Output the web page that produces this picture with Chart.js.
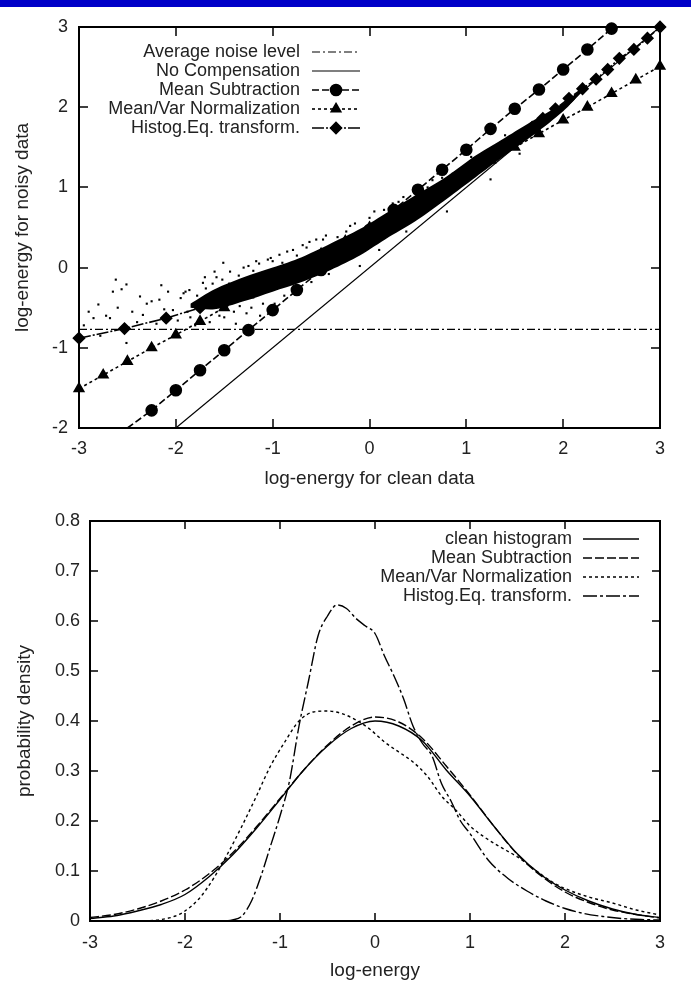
<!DOCTYPE html>
<html>
<head>
<meta charset="utf-8">
<script src="https://cdn.jsdelivr.net/npm/chart.js@4.4.0/dist/chart.umd.min.js"></script>
<style>
  html, body { margin: 0; padding: 0; background: #fff; }
  body { width: 691px; height: 985px; position: relative; overflow: hidden; }
  #bar { position: absolute; left: 0; top: 0; width: 691px; height: 7px; background: #0000c8; z-index: 2; }
  #wrapTop { position: absolute; left: 0; top: 0; }
  #wrapBottom { position: absolute; left: 0; top: 495px; }
</style>
</head>
<body>
<div id="bar"></div>
<div id="wrapTop"><canvas id="topChart" width="691" height="495"></canvas></div>
<div id="wrapBottom"><canvas id="bottomChart" width="691" height="490"></canvas></div>
<script>
// ---- top panel: noisy vs clean log-energy ----
const energyTicks = [-3, -2, -1, 0, 1, 2, 3];
const noisyTicks = [-2, -1, 0, 1, 2, 3];

const noiseX = [-3, 3];
const noiseY = [-0.77, -0.77];

const noCompX = [-2, 3];
const noCompY = [-2, 3];

const meanSubX = [-2.5, -2.25, -2, -1.75, -1.5, -1.25, -1, -0.75, -0.5, -0.25, 0, 0.25, 0.5, 0.75, 1, 1.25, 1.5, 1.75, 2, 2.25, 2.5];
const meanSubY = [-2.0, -1.78, -1.53, -1.28, -1.03, -0.78, -0.53, -0.28, -0.03, 0.22, 0.47, 0.72, 0.97, 1.22, 1.47, 1.73, 1.98, 2.22, 2.47, 2.72, 2.98];

const meanVarX = [-3, -2.75, -2.5, -2.25, -2, -1.75, -1.5, -1.25, -1, -0.75, -0.5, -0.25, 0, 0.25, 0.5, 0.75, 1, 1.25, 1.5, 1.75, 2, 2.25, 2.5, 2.75, 3];
const meanVarY = [-1.51, -1.34, -1.17, -1.0, -0.84, -0.67, -0.5, -0.34, -0.17, 0.0, 0.17, 0.33, 0.5, 0.67, 0.84, 1.0, 1.17, 1.34, 1.5, 1.67, 1.84, 2.0, 2.17, 2.34, 2.51];

const histEqX = [-3, -2.53, -2.1, -1.75, -1.45, -1.2, -0.95, -0.7, -0.5, -0.3, -0.1, 0.1, 0.3, 0.5, 0.7, 0.9, 1.1, 1.3, 1.51, 1.68, 1.79, 1.92, 2.06, 2.2, 2.34, 2.46, 2.58, 2.73, 2.87, 3.0];
const histEqY = [-0.88, -0.76, -0.63, -0.5, -0.38, -0.27, -0.15, -0.03, 0.08, 0.2, 0.33, 0.47, 0.62, 0.77, 0.93, 1.09, 1.25, 1.42, 1.59, 1.75, 1.86, 1.98, 2.11, 2.23, 2.35, 2.47, 2.61, 2.72, 2.86, 3.0];

// dense part of the noisy-frame cloud (lower / upper edge)
const cloudX = [-1.85, -1.6, -1.3, -1.0, -0.7, -0.4, -0.1, 0.2, 0.5, 0.8, 1.1, 1.4, 1.7, 2.0, 2.2];
const cloudLow = [-0.5, -0.52, -0.42, -0.3, -0.18, -0.03, 0.15, 0.38, 0.6, 0.86, 1.13, 1.4, 1.66, 1.95, 2.2];
const cloudHigh = [-0.45, -0.27, -0.12, 0.0, 0.13, 0.3, 0.48, 0.7, 0.92, 1.14, 1.4, 1.62, 1.84, 2.05, 2.23];

// loose frames around the cloud
const dotsX = [-2.95, -2.9, -2.85, -2.8, -2.78, -2.72, -2.68, -2.65, -2.6, -2.56, -2.51, -2.51, -2.45, -2.4, -2.37, -2.34, -2.3, -2.25, -2.2, -2.17,
  -2.12, -2.08, -2.03, -1.98, -1.95, -1.92, -1.88, -1.86, -1.8, -1.75, -1.72, -1.69, -1.65, -1.6, -1.55, -1.51, -1.48, -1.45, -1.41, -1.38,
  -1.34, -1.3, -1.27, -1.2, -1.14, -1.13, -1.05, -0.98, -0.93, -0.85, -0.79, -0.69, -0.65, -0.58, -0.55, -0.48, -0.38, -0.24, -0.15, 0.0,
  0.24, 0.35, 0.45, 0.65, 0.86, -2.62, -2.15, -1.58, -1.0, -0.3, 0.55, 1.2,
  -1.9, -1.85, -1.78, -1.7, -1.66, -1.62, -1.57, -1.52, -1.5, -1.44, -1.4, -1.35, -1.25, -1.22, -1.17, -1.1, -1.02, -0.9, -0.88, -0.75,
  -0.72, -0.62, -0.6, -0.45, -0.42, -0.33, -0.2, -0.1, 0.05, 0.1, 0.15, 0.3, 0.38, 0.6, 0.75, 0.8, 1.05, 1.25, 1.4, 1.55];
const dotsY = [-0.72, -0.55, -0.63, -0.46, -0.85, -0.6, -0.63, -0.3, -0.5, -0.27, -0.21, -0.94, -0.55, -0.68, -0.36, -0.59, -0.45, -0.42, -0.7, -0.4,
  -0.52, -0.3, -0.53, -0.66, -0.38, -0.32, -0.55, -0.28, -0.72, -0.42, -0.19, -0.26, -0.68, -0.05, -0.6, 0.06, -0.48, -0.2, -0.27, -0.7,
  -0.48, 0.0, -0.57, -0.04, 0.05, -0.6, 0.1, -0.45, 0.16, 0.2, 0.22, 0.28, 0.25, 0.16, 0.35, 0.35, 0.26, 0.45, 0.55, 0.62,
  0.8, 0.88, 0.96, 1.09, 1.17, -0.15, -0.22, -0.12, 0.08, 0.3, 0.95, 1.45,
  -0.3, -0.62, -0.35, -0.12, -0.45, -0.2, -0.35, -0.15, -0.62, -0.05, -0.55, -0.1, 0.02, -0.5, 0.08, -0.45, 0.12, 0.06, -0.35, 0.15,
  -0.3, 0.32, -0.18, 0.4, -0.08, 0.38, 0.52, 0.02, 0.7, 0.22, 0.72, 0.82, 0.45, 1.0, 1.12, 0.7, 1.38, 1.1, 1.65, 1.42];

// ---- bottom panel: densities ----
const densityTicks = [0, 0.1, 0.2, 0.3, 0.4, 0.5, 0.6, 0.7, 0.8];

const cleanX = [-3, -2.75, -2.5, -2.25, -2, -1.75, -1.5, -1.25, -1, -0.75, -0.5, -0.25, 0, 0.25, 0.5, 0.75, 1, 1.25, 1.5, 1.75, 2, 2.25, 2.5, 2.75, 3];
const cleanY = [0.005, 0.01, 0.02, 0.033, 0.053, 0.088, 0.132, 0.185, 0.243, 0.302, 0.35, 0.385, 0.4, 0.39, 0.36, 0.302, 0.25, 0.19, 0.134, 0.092, 0.062, 0.04, 0.024, 0.013, 0.007];

const msubX = [-3, -2.75, -2.5, -2.25, -2, -1.75, -1.5, -1.25, -1, -0.75, -0.5, -0.25, 0, 0.25, 0.5, 0.75, 1, 1.25, 1.5, 1.75, 2, 2.25, 2.5, 2.75, 3];
const msubY = [0.007, 0.013, 0.024, 0.04, 0.062, 0.094, 0.136, 0.188, 0.245, 0.302, 0.352, 0.39, 0.408, 0.398, 0.365, 0.31, 0.252, 0.19, 0.133, 0.09, 0.058, 0.037, 0.022, 0.013, 0.006];

const mvarX = [-3, -2.5, -2.25, -2.1, -2, -1.85, -1.7, -1.55, -1.4, -1.25, -1.1, -0.95, -0.8, -0.65, -0.5, -0.35, -0.2, -0.05, 0.1, 0.25, 0.4, 0.55, 0.7, 0.85, 1.0, 1.15, 1.3, 1.5, 1.7, 1.85, 2.0, 2.25, 2.5, 2.75, 3.0];
const mvarY = [0.0, 0.0, 0.003, 0.01, 0.02, 0.045, 0.085, 0.135, 0.19, 0.249, 0.31, 0.358, 0.4, 0.418, 0.42, 0.415, 0.402, 0.383, 0.358, 0.338, 0.318, 0.29, 0.25, 0.222, 0.19, 0.168, 0.15, 0.128, 0.1, 0.08, 0.065, 0.048, 0.036, 0.022, 0.012];

const heqX = [-3, -2, -1.6, -1.5, -1.4, -1.3, -1.2, -1.1, -1.0, -0.9, -0.8, -0.7, -0.6, -0.5, -0.4, -0.3, -0.2, -0.1, 0.0, 0.1, 0.2, 0.3, 0.4, 0.5, 0.6, 0.7, 0.8, 0.9, 1.0, 1.2, 1.4, 1.6, 1.8, 2.0, 2.2, 2.4, 2.6, 2.8, 3.0];
const heqY = [0.0, 0.0, 0.0, 0.002, 0.01, 0.04, 0.09, 0.15, 0.21, 0.28, 0.39, 0.48, 0.57, 0.61, 0.632, 0.625, 0.605, 0.59, 0.575, 0.53, 0.49, 0.445, 0.39, 0.355, 0.33, 0.275, 0.24, 0.2, 0.175, 0.12, 0.085, 0.06, 0.04, 0.025, 0.015, 0.009, 0.005, 0.003, 0.002];

const pts = (xs, ys) => xs.map((x, i) => ({ x: x, y: ys[i] }));

Chart.defaults.font.family = "'Liberation Sans', Arial, sans-serif";
Chart.defaults.color = '#222';

// gnuplot style frame with inward tick marks on all four sides
const frameTicks = {
  id: 'frameTicks',
  beforeDatasetsDraw(chart, args, opts) {
    const { ctx, chartArea: a, scales } = chart;
    const len = opts.len || 8;
    ctx.save();
    ctx.strokeStyle = '#000';
    ctx.lineWidth = 1.5;
    ctx.beginPath();
    scales.x.ticks.forEach(t => {
      const px = Math.round(scales.x.getPixelForValue(t.value));
      ctx.moveTo(px, a.bottom); ctx.lineTo(px, a.bottom - len);
      ctx.moveTo(px, a.top); ctx.lineTo(px, a.top + len);
    });
    scales.y.ticks.forEach(t => {
      const py = Math.round(scales.y.getPixelForValue(t.value));
      ctx.moveTo(a.left, py); ctx.lineTo(a.left + len, py);
      ctx.moveTo(a.right, py); ctx.lineTo(a.right - len, py);
    });
    ctx.stroke();
    ctx.lineWidth = 2;
    ctx.strokeRect(a.left, a.top, a.right - a.left, a.bottom - a.top);
    ctx.restore();
  }
};

// key drawn inside the plot: text right aligned, line sample to its right
const keyBox = {
  id: 'keyBox',
  afterDatasetsDraw(chart, args, opts) {
    const ctx = chart.ctx;
    ctx.save();
    ctx.font = opts.font;
    ctx.textAlign = 'right';
    ctx.textBaseline = 'middle';
    let row = 0;
    chart.data.datasets.forEach((ds, i) => {
      if (!ds.label) return;
      const y = opts.top + row * opts.rowHeight;
      ctx.fillStyle = '#222';
      ctx.fillText(ds.label, opts.textRight, y);
      const x0 = opts.textRight + opts.gap;
      const x1 = x0 + opts.sampleLength;
      ctx.strokeStyle = '#000';
      ctx.lineWidth = ds.borderWidth;
      ctx.setLineDash(ds.borderDash || []);
      ctx.beginPath();
      ctx.moveTo(x0, y);
      ctx.lineTo(x1, y);
      ctx.stroke();
      ctx.setLineDash([]);
      const meta = chart.getDatasetMeta(i);
      const last = meta.data[meta.data.length - 1];
      if (last && last.options.radius > 0) {
        ctx.fillStyle = '#000';
        Chart.helpers.drawPoint(ctx, {
          pointStyle: last.options.pointStyle,
          radius: last.options.radius,
          rotation: 0,
          borderWidth: 1
        }, (x0 + x1) / 2, y);
      }
      row++;
    });
    ctx.restore();
  }
};

const axisText = { size: 18 };
const titleText = { size: 19 };

new Chart(document.getElementById('topChart'), {
  type: 'line',
  data: {
    datasets: [
      { label: 'Average noise level', data: pts(noiseX, noiseY), borderColor: '#000', borderWidth: 1.2,
        borderDash: [8, 3, 2, 3], pointRadius: 0 },
      { label: 'No Compensation', data: pts(noCompX, noCompY), borderColor: '#000', borderWidth: 1.2, pointRadius: 0 },
      { label: 'Mean Subtraction', data: pts(meanSubX, meanSubY), borderColor: '#000', borderWidth: 1.6,
        borderDash: [7, 3], pointStyle: 'circle', pointRadius: c => (c.dataIndex === 0 ? 0 : 5.5),
        pointBackgroundColor: '#000', pointBorderColor: '#000', clip: false },
      { label: 'Mean/Var Normalization', data: pts(meanVarX, meanVarY), borderColor: '#000', borderWidth: 1.6,
        borderDash: [3, 3], pointStyle: 'triangle', pointRadius: 5.5,
        pointBackgroundColor: '#000', pointBorderColor: '#000', clip: false },
      { label: 'Histog.Eq. transform.', data: pts(histEqX, histEqY), borderColor: '#000', borderWidth: 1.6,
        borderDash: [12, 2, 2, 2], pointStyle: 'rectRot', pointRadius: 5.5,
        pointBackgroundColor: '#000', pointBorderColor: '#000', clip: false },
      { data: pts(dotsX, dotsY), showLine: false, pointStyle: 'rect', pointRadius: 1.5,
        pointBackgroundColor: '#000', pointBorderColor: '#000', borderWidth: 0 },
      { data: pts(cloudX, cloudLow), borderWidth: 0, borderColor: '#000', pointRadius: 0,
        fill: '+1', backgroundColor: '#000', tension: 0.3 },
      { data: pts(cloudX, cloudHigh), borderWidth: 0, borderColor: '#000', pointRadius: 0, fill: false, tension: 0.3 }
    ]
  },
  options: {
    responsive: false,
    animation: false,
    layout: { padding: { top: 27, right: 31, left: 0, bottom: 0 } },
    plugins: {
      legend: { display: false },
      tooltip: { enabled: false },
      frameTicks: { len: 9 },
      keyBox: { font: "18px 'Liberation Sans', Arial, sans-serif", textRight: 300, top: 52, rowHeight: 19,
        gap: 12, sampleLength: 48 }
    },
    scales: {
      x: {
        type: 'linear', min: -3, max: 3,
        afterBuildTicks: s => { s.ticks = energyTicks.map(v => ({ value: v })); },
        ticks: { padding: 10, font: axisText, color: '#222', callback: v => String(v) },
        grid: { display: false, drawTicks: false }, border: { display: false },
        title: { display: true, text: 'log-energy for clean data', font: titleText, color: '#222',
          padding: { top: 0, bottom: 5 } },
        afterFit: s => { s.height = 67; }
      },
      y: {
        type: 'linear', min: -2, max: 3,
        afterBuildTicks: s => { s.ticks = noisyTicks.map(v => ({ value: v })); },
        ticks: { padding: 11, font: axisText, color: '#222', callback: v => String(v) },
        grid: { display: false, drawTicks: false }, border: { display: false },
        title: { display: true, text: 'log-energy for noisy data', font: titleText, color: '#222',
          padding: { top: 11, bottom: 0 } },
        afterFit: s => { s.width = 79; }
      }
    }
  },
  plugins: [frameTicks, keyBox]
});

new Chart(document.getElementById('bottomChart'), {
  type: 'line',
  data: {
    datasets: [
      { label: 'clean histogram', data: pts(cleanX, cleanY), borderColor: '#000', borderWidth: 1.4,
        pointRadius: 0, cubicInterpolationMode: 'monotone' },
      { label: 'Mean Subtraction', data: pts(msubX, msubY), borderColor: '#000', borderWidth: 1.4,
        borderDash: [9, 3], pointRadius: 0, cubicInterpolationMode: 'monotone' },
      { label: 'Mean/Var Normalization', data: pts(mvarX, mvarY), borderColor: '#000', borderWidth: 1.4,
        borderDash: [3, 3], pointRadius: 0, cubicInterpolationMode: 'monotone' },
      { label: 'Histog.Eq. transform.', data: pts(heqX, heqY), borderColor: '#000', borderWidth: 1.4,
        borderDash: [14, 3, 3, 3], pointRadius: 0, cubicInterpolationMode: 'monotone' }
    ]
  },
  options: {
    responsive: false,
    animation: false,
    layout: { padding: { top: 26, right: 31, left: 0, bottom: 0 } },
    plugins: {
      legend: { display: false },
      tooltip: { enabled: false },
      frameTicks: { len: 8 },
      keyBox: { font: "18px 'Liberation Sans', Arial, sans-serif", textRight: 572, top: 44, rowHeight: 19,
        gap: 11, sampleLength: 56 }
    },
    scales: {
      x: {
        type: 'linear', min: -3, max: 3,
        afterBuildTicks: s => { s.ticks = energyTicks.map(v => ({ value: v })); },
        ticks: { padding: 11, font: axisText, color: '#222', callback: v => String(v) },
        grid: { display: false, drawTicks: false }, border: { display: false },
        title: { display: true, text: 'log-energy', font: titleText, color: '#222',
          padding: { top: 0, bottom: 3 } },
        afterFit: s => { s.height = 64; }
      },
      y: {
        type: 'linear', min: 0, max: 0.8,
        afterBuildTicks: s => { s.ticks = densityTicks.map(v => ({ value: v })); },
        ticks: { padding: 10, font: axisText, color: '#222', callback: v => String(v) },
        grid: { display: false, drawTicks: false }, border: { display: false },
        title: { display: true, text: 'probability density', font: titleText, color: '#222',
          padding: { top: 13, bottom: 0 } },
        afterFit: s => { s.width = 90; }
      }
    }
  },
  plugins: [frameTicks, keyBox]
});
</script>
</body>
</html>
